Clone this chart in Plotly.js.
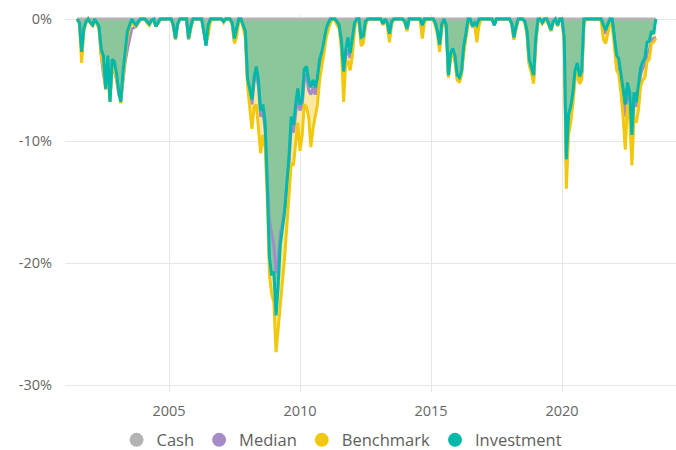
<!DOCTYPE html>
<html>
<head>
<meta charset="utf-8">
<script src="https://cdn.plot.ly/plotly-3.0.1.min.js"></script>
<style>
html,body{margin:0;padding:0;background:#ffffff;}
#chart{width:676px;height:450px;}
</style>
</head>
<body>
<div id="chart"></div>
<script>
// ---- data (monthly drawdown, %) ----
const startYear = 2001, startMonth = 7;   // first observation: Jul 2001
const seriesNames = ['Cash', 'Median', 'Benchmark', 'Investment'];
const seriesColors = ['#B3B3B3', '#A68BC9', '#F2C80F', '#01B8AA'];
const xTickValues = ['2005-01-01', '2010-01-01', '2015-01-01', '2020-01-01'];
const xTickLabels = ['2005', '2010', '2015', '2020'];
const yTickValues = [0, -10, -20, -30];
const yTickLabels = ['0%', '-10%', '-20%', '-30%'];

const investment = [
  0, -0.3, -2.7, -0.8, -0.2, 0,
  -0.3, -0.5, 0, -0.3, -0.6, -2.5, -3.0, -5.7, -3.0, -6.8, -3.3, -3.5,
  -4.5, -6.0, -6.8, -4.3, -2.5, -1.0, -0.5, 0, -0.3, -0.5, -0.2, 0,
  0, 0, -0.2, -0.4, -0.1, 0, -0.6, -0.3, 0, 0, 0, 0,
  0, 0, -0.5, -1.6, -0.4, 0, 0, 0, 0, -1.6, -0.6, 0,
  0, 0, 0, 0, -1.0, -2.2, -0.5, 0, 0, 0, 0, 0,
  0, -0.2, 0, 0, 0, -0.3, -1.6, -0.8, 0, 0, -0.6, -1.0,
  -4.9, -5.8, -6.6, -4.8, -3.9, -5.0, -7.5, -7.0, -8.4, -13.5, -19.5, -21.0,
  -20.7, -24.3, -22.0, -18.5, -17.2, -15.8, -13.5, -11.2, -8.0, -8.7, -7.0, -5.7,
  -7.0, -6.5, -4.1, -3.9, -5.0, -5.6, -5.0, -5.6, -4.8, -3.3, -2.7, -1.8,
  -0.8, -0.3, 0, 0, 0, -0.2, -0.5, -1.8, -4.3, -2.5, -1.5, -2.8,
  -1.5, -0.3, 0, 0, -1.5, -1.4, -0.2, 0, 0, 0, 0, 0,
  0, 0, -0.4, 0, -0.3, -1.2, -0.2, 0, 0, 0, 0, 0,
  -0.2, -0.8, 0, 0, 0, 0, 0, 0, -0.5, 0, 0, 0,
  0, 0, -0.3, -1.0, -2.1, -0.4, 0, -0.5, -4.6, -2.8, -2.4, -3.0,
  -4.6, -4.8, -4.3, -2.2, -1.2, 0, 0, -0.6, -0.3, -0.5, 0, 0,
  0, 0, 0, 0, 0, -0.5, 0, 0, 0, 0, 0, 0,
  0, -0.4, -1.5, -0.6, 0, 0, 0, -0.2, -1.0, -3.3, -4.0, -4.6,
  -1.5, 0, 0, -0.3, 0, 0, -0.4, -0.9, -0.2, 0, -0.5, 0,
  0, -1.5, -11.5, -7.8, -7.2, -6.0, -4.2, -3.6, -4.7, -4.3, 0, 0,
  0, 0, 0, 0, 0, 0, 0, -0.5, -0.9, -0.4, 0, 0,
  -1.8, -3.0, -3.2, -4.5, -6.0, -7.0, -5.2, -6.0, -9.5, -6.0, -6.8, -5.5,
  -4.0, -3.5, -3.2, -1.9, -1.8, -1.0, -1.2, 0
];

const benchmark = [
  0, -0.4, -3.6, -1.0, -0.3, 0,
  -0.3, -0.6, 0, -0.4, -0.8, -3.0, -4.0, -5.8, -4.5, -6.8, -3.8, -4.0,
  -5.0, -6.2, -6.9, -4.8, -3.0, -1.5, -0.7, -0.2, -0.5, -0.6, -0.3, 0,
  0, 0, -0.3, -0.5, -0.2, 0, -0.6, -0.4, 0, 0, 0, 0,
  0, 0, -0.6, -1.7, -0.5, 0, 0, 0, 0, -1.7, -0.7, 0,
  0, 0, 0, 0, -1.0, -2.0, -1.3, -0.2, 0, 0, 0, 0,
  0, -0.3, 0, 0, 0, -0.5, -2.0, -1.5, -0.2, 0, -0.8, -1.5,
  -5.5, -7.4, -9.0, -7.2, -7.0, -9.0, -11.0, -9.5, -10.5, -14.5, -21.0, -22.5,
  -23.2, -27.3, -25.5, -24.0, -21.8, -19.5, -17.0, -14.5, -11.8, -12.0, -10.0, -8.5,
  -10.8, -9.5, -7.0, -7.2, -8.0, -10.5, -9.0, -8.0, -7.0, -5.0, -4.0, -2.8,
  -1.5, -0.8, -0.3, 0, -0.1, -0.5, -0.8, -2.5, -6.8, -3.5, -3.5, -4.2,
  -3.0, -0.8, 0, -0.2, -2.2, -2.0, -0.6, 0, 0, 0, 0, 0,
  0, 0, -0.5, 0, -0.5, -1.9, -0.4, 0, 0, 0, 0, 0,
  -0.3, -1.0, 0, 0, 0, 0, 0, 0, -1.6, -0.3, 0, 0,
  0, -0.1, -0.5, -1.3, -2.7, -0.7, -0.2, -0.8, -4.8, -3.2, -2.8, -3.5,
  -5.0, -5.2, -4.6, -2.8, -1.5, -0.4, 0, -0.6, -0.5, -1.9, -0.5, 0,
  0, 0, 0, 0, 0, -0.5, 0, 0, 0, 0, 0, 0,
  0, -0.5, -1.7, -0.8, -0.1, 0, 0, -0.3, -1.3, -3.8, -4.4, -5.3,
  -2.0, -0.2, 0, -0.4, -0.2, 0, -0.5, -1.0, -0.3, 0, -0.6, 0,
  0, -2.0, -13.9, -9.5, -8.5, -7.0, -5.0, -4.2, -5.3, -5.0, -0.5, 0,
  0, 0, 0, 0, 0, 0, -0.2, -1.7, -2.0, -1.0, -0.3, -0.5,
  -2.5, -4.2, -4.5, -6.0, -8.0, -10.7, -7.0, -8.0, -12.0, -8.0, -8.5, -7.5,
  -5.5, -5.0, -4.8, -3.5, -3.3, -2.0, -1.9, -1.6
];

const median = [
  0, -0.3, -2.5, -0.9, -0.3, 0,
  -0.3, -0.5, 0, -0.3, -0.7, -3.0, -4.5, -5.5, -4.2, -6.5, -4.0, -4.2,
  -5.0, -6.2, -6.6, -5.0, -3.5, -2.5, -1.5, -0.8, -0.7, -0.6, -0.3, 0,
  0, 0, -0.3, -0.5, -0.2, 0, -0.6, -0.3, 0, 0, 0, 0,
  0, 0, -0.5, -1.6, -0.4, 0, 0, 0, 0, -1.6, -0.6, 0,
  0, 0, 0, 0, -1.0, -2.1, -0.8, 0, 0, 0, 0, 0,
  0, -0.2, 0, 0, 0, -0.4, -1.8, -1.0, 0, 0, -0.7, -1.2,
  -5.0, -6.0, -7.0, -5.2, -4.5, -5.5, -8.0, -7.5, -9.0, -13.0, -16.5, -17.5,
  -18.5, -20.8, -20.0, -17.5, -16.8, -15.5, -13.5, -11.8, -8.8, -9.3, -7.8, -6.3,
  -7.5, -7.0, -5.0, -4.5, -5.8, -6.2, -5.6, -6.2, -5.3, -3.8, -3.2, -2.2,
  -1.0, -0.5, 0, 0, 0, -0.3, -0.6, -2.0, -5.0, -3.0, -2.5, -3.2,
  -2.0, -0.5, 0, 0, -1.7, -1.6, -0.4, 0, 0, 0, 0, 0,
  0, 0, -0.4, 0, -0.4, -1.5, -0.3, 0, 0, 0, 0, 0,
  -0.2, -0.9, 0, 0, 0, 0, 0, 0, -0.8, 0, 0, 0,
  0, 0, -0.4, -1.1, -2.3, -0.5, 0, -0.6, -4.7, -3.0, -2.6, -3.3,
  -4.8, -5.0, -4.4, -2.5, -1.3, -0.2, 0, -0.6, -0.4, -0.8, -0.1, 0,
  0, 0, 0, 0, 0, -0.5, 0, 0, 0, 0, 0, 0,
  0, -0.4, -1.6, -0.7, 0, 0, 0, -0.2, -1.2, -3.6, -4.2, -5.0,
  -1.8, -0.1, 0, -0.3, 0, 0, -0.4, -0.9, -0.2, 0, -0.5, 0,
  0, -1.7, -12.0, -8.5, -7.8, -6.5, -4.8, -4.0, -5.3, -4.8, -0.2, 0,
  0, 0, 0, 0, 0, 0, 0, -0.8, -1.2, -0.6, 0, -0.1,
  -2.0, -3.3, -3.6, -5.0, -6.6, -8.0, -5.8, -6.5, -9.8, -6.5, -7.2, -6.0,
  -4.5, -4.0, -3.8, -2.8, -2.6, -1.7, -1.6, -1.5
];

const cash = [
  0, 0, 0, 0, 0, 0,
  0, 0, 0, 0, 0, 0, 0, 0, 0, 0, 0, 0,
  0, 0, 0, 0, 0, 0, 0, 0, 0, 0, 0, 0,
  0, 0, 0, 0, 0, 0, 0, 0, 0, 0, 0, 0,
  0, 0, 0, 0, 0, 0, 0, 0, 0, 0, 0, 0,
  0, 0, 0, 0, 0, 0, 0, 0, 0, 0, 0, 0,
  0, 0, 0, 0, 0, 0, 0, 0, 0, 0, 0, 0,
  0, 0, 0, 0, 0, 0, 0, 0, 0, 0, 0, 0,
  0, 0, 0, 0, 0, 0, 0, 0, 0, 0, 0, 0,
  0, 0, 0, 0, 0, 0, 0, 0, 0, 0, 0, 0,
  0, 0, 0, 0, 0, 0, 0, 0, 0, 0, 0, 0,
  0, 0, 0, 0, 0, 0, 0, 0, 0, 0, 0, 0,
  0, 0, 0, 0, 0, 0, 0, 0, 0, 0, 0, 0,
  0, 0, 0, 0, 0, 0, 0, 0, 0, 0, 0, 0,
  0, 0, 0, 0, 0, 0, 0, 0, 0, 0, 0, 0,
  0, 0, 0, 0, 0, 0, 0, 0, 0, 0, 0, 0,
  0, 0, 0, 0, 0, 0, 0, 0, 0, 0, 0, 0,
  0, 0, 0, 0, 0, 0, 0, 0, 0, 0, 0, 0,
  0, 0, 0, 0, 0, 0, 0, 0, 0, 0, 0, 0,
  0, 0, 0, 0, 0, 0, 0, 0, 0, 0, 0, 0,
  0, 0, 0, 0, 0, 0, 0, 0, 0, 0, 0, 0,
  0, 0, 0, 0, 0, 0, 0, 0, 0, 0, 0, 0,
  0, 0, 0, 0, 0, 0, 0, 0
];

// ---- build monthly dates ----
const dates = [];
for (let k = 0; k < investment.length; k++) {
  const m = startMonth - 1 + k;
  const y = startYear + Math.floor(m / 12);
  const mm = (m % 12) + 1;
  dates.push(y + '-' + String(mm).padStart(2, '0') + '-01');
}

const seriesValues = [cash, median, benchmark, investment];
const FONT = '"Open Sans", "Noto Sans", sans-serif';

const traces = [];
// area fills (drawn first, underneath all lines)
traces.push({
  x: dates, y: benchmark, type: 'scatter', mode: 'none',
  fill: 'tozeroy', fillcolor: '#F9E9A3', showlegend: false, hoverinfo: 'skip'
});
traces.push({
  x: dates, y: investment, type: 'scatter', mode: 'none',
  fill: 'tozeroy', fillcolor: '#8CC79B', showlegend: false, hoverinfo: 'skip'
});
// lines
for (let s = 0; s < seriesNames.length; s++) {
  traces.push({
    x: dates, y: seriesValues[s], type: 'scatter', mode: 'lines',
    name: seriesNames[s], line: {color: seriesColors[s], width: 3},
    showlegend: false, hoverinfo: 'skip'
  });
}
// legend entries (circle markers)
for (let s = 0; s < seriesNames.length; s++) {
  traces.push({
    x: [null], y: [null], type: 'scatter', mode: 'markers',
    name: seriesNames[s], marker: {color: seriesColors[s], size: 14, symbol: 'circle'},
    showlegend: true
  });
}

const layout = {
  width: 676, height: 450,
  margin: {l: 65, r: 0, t: 15, b: 58},
  paper_bgcolor: '#ffffff', plot_bgcolor: '#ffffff',
  font: {family: FONT, color: '#666666', size: 14},
  showlegend: true,
  legend: {
    orientation: 'h', xref: 'container', yref: 'container',
    x: 0.506, xanchor: 'center', y: 0.022, yanchor: 'middle',
    font: {family: FONT, size: 16.5, color: '#605E5C'},
    itemwidth: 30, tracegroupgap: 0, bgcolor: 'rgba(0,0,0,0)'
  },
  xaxis: {
    type: 'date', range: ['2001-01-12', '2024-05-08'],
    tickvals: xTickValues, ticktext: xTickLabels,
    showgrid: true, gridcolor: '#E6E6E6', gridwidth: 1,
    zeroline: false, showline: false, ticks: '',
    ticklabelstandoff: 8,
    tickfont: {family: FONT, size: 14.5, color: '#666666'}
  },
  yaxis: {
    range: [-30.57, 0.33],
    tickvals: yTickValues, ticktext: yTickLabels,
    showgrid: true, gridcolor: '#E6E6E6', gridwidth: 1,
    zeroline: false, showline: false, ticks: '',
    ticklabelstandoff: 12,
    tickfont: {family: FONT, size: 14.5, color: '#666666'}
  },
  hovermode: false
};

Plotly.newPlot('chart', traces, layout, {staticPlot: true, displayModeBar: false});
</script>
</body>
</html>
